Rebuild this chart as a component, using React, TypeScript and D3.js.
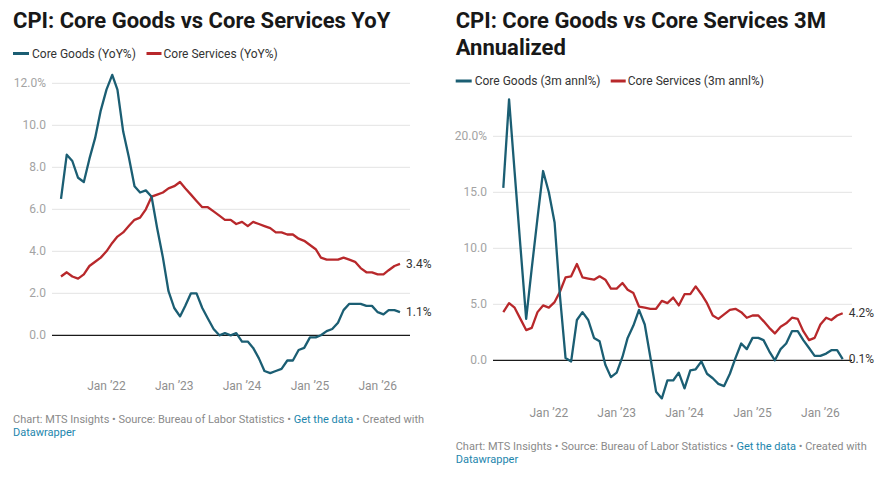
import React from "react";
import * as d3 from "d3";

// Monthly observations, May 2021 – May 2026
const months: Date[] = d3.timeMonth.range(new Date(2021, 4, 1), new Date(2026, 5, 1));

const goodsYoY = [
  6.5, 8.6, 8.3, 7.5, 7.3, 8.4, 9.4, 10.7, 11.7, 12.4,
  11.7, 9.7, 8.5, 7.1, 6.8, 6.9, 6.6, 5.1, 3.7, 2.1,
  1.3, 0.9, 1.4, 2.0, 2.0, 1.3, 0.8, 0.3, 0.0, 0.1,
  0.0, 0.1, -0.3, -0.3, -0.6, -1.1, -1.7, -1.8, -1.7, -1.6,
  -1.2, -1.2, -0.7, -0.6, -0.1, -0.1, 0.0, 0.2, 0.3, 0.6,
  1.2, 1.5, 1.5, 1.5, 1.4, 1.4, 1.1, 1.0, 1.2, 1.2,
  1.1,
];

const servicesYoY = [
  2.8, 3.0, 2.8, 2.7, 2.9, 3.3, 3.5, 3.7, 4.0, 4.4,
  4.7, 4.9, 5.2, 5.5, 5.6, 6.0, 6.6, 6.7, 6.8, 7.0,
  7.1, 7.3, 7.0, 6.7, 6.4, 6.1, 6.1, 5.9, 5.7, 5.5,
  5.5, 5.3, 5.4, 5.2, 5.4, 5.3, 5.2, 5.1, 4.9, 4.9,
  4.8, 4.8, 4.6, 4.5, 4.3, 4.1, 3.7, 3.6, 3.6, 3.6,
  3.7, 3.6, 3.5, 3.2, 3.0, 3.0, 2.9, 2.9, 3.1, 3.3,
  3.4,
];

const goods3m = [
  15.4, 23.3, 16.8, 10.2, 3.7, 8.2, 12.7, 16.9, 15.0, 12.3,
  5.9, 0.2, -0.1, 3.6, 4.3, 3.6, 2.0, 1.7, -0.4, -1.5,
  -1.1, 0.3, 2.0, 3.1, 4.5, 3.2, 0.3, -2.8, -3.4, -1.8,
  -1.8, -1.1, -2.5, -0.9, -0.8, -0.1, -1.2, -1.6, -2.1, -2.3,
  -1.2, 0.2, 1.5, 1.0, 2.0, 2.0, 1.8, 0.8, 0.0, 1.0,
  1.5, 2.6, 2.6, 1.8, 1.1, 0.4, 0.4, 0.6, 0.9, 0.9,
  0.1,
];

const services3m = [
  4.3, 5.1, 4.7, 3.7, 2.7, 2.9, 4.3, 4.9, 4.7, 5.2,
  6.1, 7.4, 7.5, 8.6, 7.4, 7.3, 7.2, 7.5, 7.2, 6.4,
  6.4, 6.9, 6.3, 6.0, 4.8, 4.7, 4.6, 4.6, 5.3, 5.1,
  5.6, 4.9, 5.9, 5.9, 6.6, 5.9, 5.1, 4.0, 3.7, 4.1,
  4.5, 4.6, 4.3, 3.8, 4.0, 4.0, 3.5, 2.9, 2.4, 3.0,
  3.3, 3.8, 3.7, 2.6, 1.8, 2.0, 3.2, 3.8, 3.6, 4.0,
  4.2,
];

const xTickDates = [2022, 2023, 2024, 2025, 2026].map((y) => new Date(y, 0, 1));
const yTicksYoY = [0, 2, 4, 6, 8, 10, 12];
const yTicks3m = [0, 5, 10, 15, 20];

const GOODS = "#1b5e73";
const SERVICES = "#b8282b";
const FONT = "Roboto, 'Noto Sans', sans-serif";

type PanelProps = {
  left: number;
  titleLines: string[];
  legendY: number;
  legendGoods: string;
  legendServices: string;
  legendSplit: number;
  goods: number[];
  services: number[];
  yTicks: number[];
  yTop: number;
  yZero: number;
  plotX0: number;
  plotX1: number;
  dataX0: number;
  dataX1: number;
  tickLabelY: number;
  footerY: number;
};

function Panel(p: PanelProps) {
  const x = d3.scaleTime().domain([months[0], months[months.length - 1]]).range([p.dataX0, p.dataX1]);
  const topTick = p.yTicks[p.yTicks.length - 1];
  const y = d3.scaleLinear().domain([0, topTick]).range([p.yZero, p.yTop]);
  const line = d3
    .line<number>()
    .x((_, i) => x(months[i]))
    .y((v) => y(v));
  const fmt = d3.format(".1f");
  const lastG = p.goods[p.goods.length - 1];
  const lastS = p.services[p.services.length - 1];
  const lastX = x(months[months.length - 1]);
  const tx = p.left;

  return (
    <g>
      {p.titleLines.map((t, i) => (
        <text key={t} x={tx} y={28.3 + i * 26.5} fontFamily={FONT} fontWeight={700} fontSize={22} fill="#181818">
          {t}
        </text>
      ))}
      {/* legend */}
      <g fontFamily={FONT} fontSize={12} fill="#333">
        <line x1={tx} x2={tx + 16} y1={p.legendY} y2={p.legendY} stroke={GOODS} strokeWidth={3} />
        <text x={tx + 19} y={p.legendY} dominantBaseline="central">{p.legendGoods}</text>
        <line x1={tx + p.legendSplit} x2={tx + p.legendSplit + 15} y1={p.legendY} y2={p.legendY} stroke={SERVICES} strokeWidth={3} />
        <text x={tx + p.legendSplit + 17} y={p.legendY} dominantBaseline="central">{p.legendServices}</text>
      </g>
      {/* grid + y labels */}
      {p.yTicks.map((t, i) => (
        <g key={t}>
          {t !== 0 && (
            <line x1={p.plotX0} x2={p.plotX1} y1={y(t)} y2={y(t)} stroke="#e3e3e3" strokeWidth={1} />
          )}
          <text
            x={p.plotX0 - 6}
            y={y(t)}
            textAnchor="end"
            dominantBaseline="central"
            fontFamily={FONT}
            fontSize={12}
            fill="#a3a3a3"
          >
            {fmt(t) + (i === p.yTicks.length - 1 ? "%" : "")}
          </text>
        </g>
      ))}
      {/* x labels */}
      {xTickDates.map((d) => (
        <text
          key={d.getFullYear()}
          x={x(d)}
          y={p.tickLabelY}
          textAnchor="middle"
          dominantBaseline="central"
          fontFamily={FONT}
          fontSize={12}
          fill="#8f8f8f"
        >
          {"Jan \u2019" + String(d.getFullYear()).slice(2)}
        </text>
      ))}
      <line x1={p.plotX0} x2={p.plotX1} y1={y(0)} y2={y(0)} stroke="#1a1a1a" strokeWidth={1.2} />
      <path d={line(p.services) || ""} fill="none" stroke={SERVICES} strokeWidth={2.3} strokeLinejoin="round" />
      <path d={line(p.goods) || ""} fill="none" stroke={GOODS} strokeWidth={2.3} strokeLinejoin="round" />
      {/* end labels */}
      <g fontFamily={FONT} fontSize={12} fill="#333">
        <text x={lastX + 6} y={y(lastS)} dominantBaseline="central">{fmt(lastS) + "%"}</text>
        <text x={lastX + 6} y={y(lastG)} dominantBaseline="central">{fmt(lastG) + "%"}</text>
      </g>
      {/* footer */}
      <text x={tx} y={p.footerY} fontFamily={FONT} fontSize={11} fill="#8a8a8a">
        Chart: MTS Insights • Source: Bureau of Labor Statistics •{" "}
        <tspan fill="#1d86ad">Get the data</tspan> • Created with
      </text>
      <text x={tx} y={p.footerY + 13} fontFamily={FONT} fontSize={11} fill="#1d86ad">
        Datawrapper
      </text>
    </g>
  );
}

export default function App() {
  return (
    <div style={{ position: "absolute", left: 0, top: 0, background: "#fff" }}>
      <svg width={893} height={478} style={{ display: "block" }}>
        <rect width={893} height={478} fill="#fff" />
        <Panel
          left={13}
          titleLines={["CPI: Core Goods vs Core Services YoY"]}
          legendY={53.5}
          legendGoods="Core Goods (YoY%)"
          legendServices="Core Services (YoY%)"
          legendSplit={133.5}
          goods={goodsYoY}
          services={servicesYoY}
          yTicks={yTicksYoY}
          yTop={83.3}
          yZero={335.3}
          plotX0={52}
          plotX1={410}
          dataX0={61}
          dataX1={400}
          tickLabelY={385.7}
          footerY={423}
        />
        <Panel
          left={455.7}
          titleLines={["CPI: Core Goods vs Core Services 3M", "Annualized"]}
          legendY={81}
          legendGoods="Core Goods (3m annl%)"
          legendServices="Core Services (3m annl%)"
          legendSplit={155}
          goods={goods3m}
          services={services3m}
          yTicks={yTicks3m}
          yTop={136.3}
          yZero={360.3}
          plotX0={493}
          plotX1={852}
          dataX0={503.3}
          dataX1={842.7}
          tickLabelY={412.7}
          footerY={449.5}
        />
      </svg>
    </div>
  );
}
